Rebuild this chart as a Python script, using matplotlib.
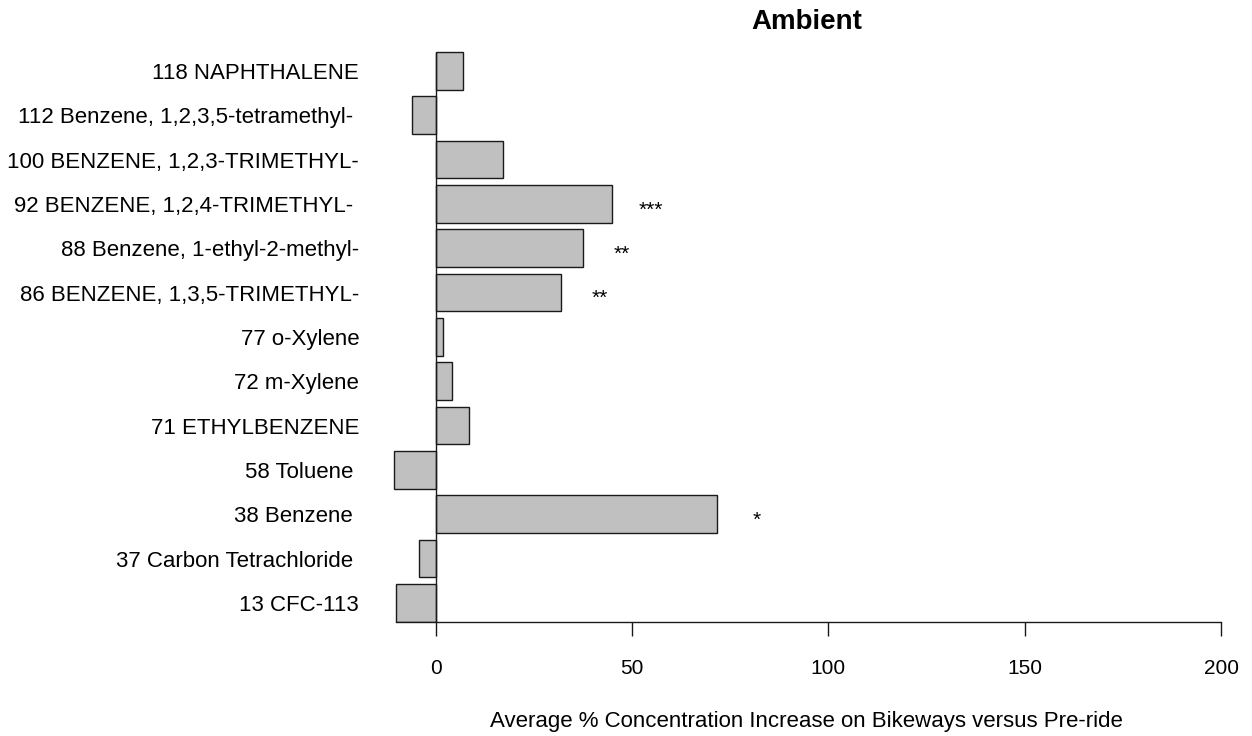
import numpy as np
import matplotlib.pyplot as plt
from matplotlib.transforms import ScaledTranslation

plt.rcParams['font.family'] = ['Liberation Sans', 'DejaVu Sans']

# compounds, top to bottom as in the chart
compounds = [
    '118 NAPHTHALENE',
    '112 Benzene, 1,2,3,5-tetramethyl- ',
    '100 BENZENE, 1,2,3-TRIMETHYL-',
    '92 BENZENE, 1,2,4-TRIMETHYL- ',
    '88 Benzene, 1-ethyl-2-methyl-',
    '86 BENZENE, 1,3,5-TRIMETHYL-',
    '77 o-Xylene',
    '72 m-Xylene',
    '71 ETHYLBENZENE',
    '58 Toluene ',
    '38 Benzene ',
    '37 Carbon Tetrachloride ',
    '13 CFC-113',
]
increase = [7.0, -6.0, 17.2, 44.8, 37.4, 31.8, 1.8, 4.1, 8.4, -10.7, 71.7, -4.2, -10.0]
signif = ['', '', '', '***', '**', '**', '', '', '', '', '*', '', '']

n = len(compounds)
y = np.arange(n)[::-1]
h = 0.85

fig = plt.figure(figsize=(12.52, 7.36), dpi=100)
ax = fig.add_axes([0.3135, 0.1553, 0.6618, 0.7785])

ax.barh(y, increase, height=h, color='#c0c0c0', edgecolor='#1a1a1a', linewidth=1.0, zorder=2)
ax.vlines(0, y.min() - h / 2, y.max() + h / 2, color='#1a1a1a', linewidth=1.0, zorder=3)

# shift a few pixels down, like the original
down = ScaledTranslation(0, -0.05, fig.dpi_scale_trans)
for yi, v, s in zip(y, increase, signif):
    if s:
        ax.text(v + 10, yi, s, ha='center', va='center', fontsize=15,
                transform=ax.transData + ScaledTranslation(0, -0.06, fig.dpi_scale_trans))

ax.set_xlim(-11, 200)
ax.set_ylim(-h / 2, n - 0.5)
ax.set_xticks([0, 50, 100, 150, 200])
ax.set_yticks(y)
ax.set_yticklabels(compounds, fontsize=16)
for lab in ax.get_yticklabels():
    lab.set_transform(lab.get_transform() + down)

for side in ['top', 'right', 'left']:
    ax.spines[side].set_visible(False)
ax.spines['bottom'].set_bounds(-10, 200)
ax.spines['bottom'].set_color('#1a1a1a')
ax.spines['bottom'].set_linewidth(1.0)

ax.tick_params(axis='y', length=0, pad=24)
ax.tick_params(axis='x', length=10, width=1.0, color='#1a1a1a', pad=16.5, labelsize=15)

ax.set_xlabel('Average % Concentration Increase on Bikeways versus Pre-ride', fontsize=16, labelpad=24)
ax.set_title('Ambient', fontsize=20, fontweight='bold', pad=14)

fig.savefig('out.png', dpi=100)
